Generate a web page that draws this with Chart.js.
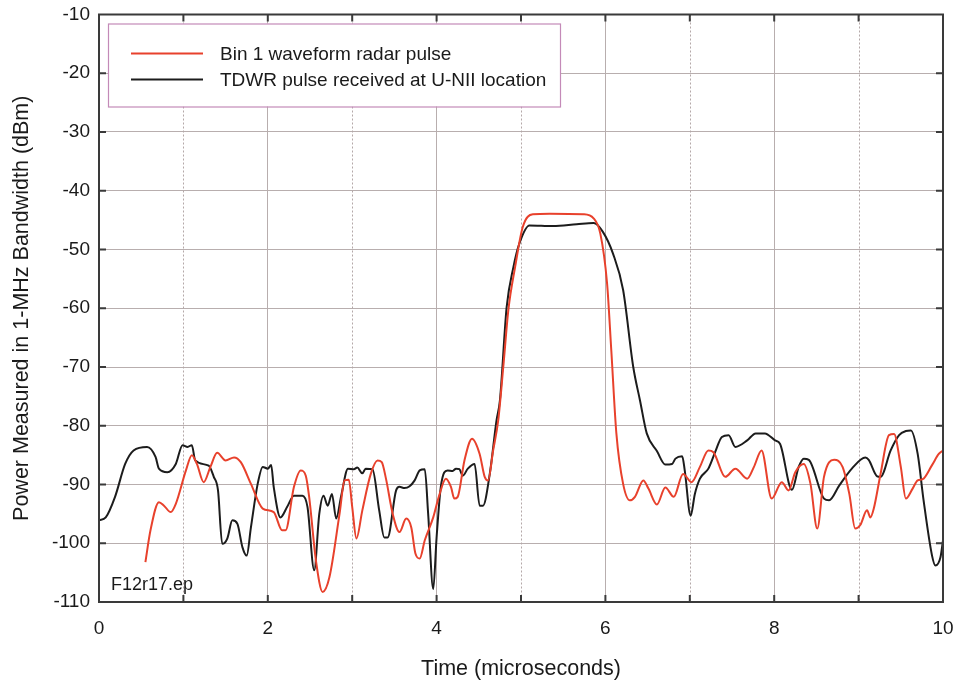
<!DOCTYPE html>
<html>
<head>
<meta charset="utf-8">
<script src="https://cdn.jsdelivr.net/npm/chart.js@4.4.0/dist/chart.umd.min.js"></script>
<style>
  html, body { margin: 0; padding: 0; background: #fff; }
  #wrap { width: 958px; height: 688px; }
</style>
</head>
<body>
<div id="wrap"><canvas id="myChart" width="958" height="688"></canvas></div>
<script>
// Bin 1 waveform radar pulse (red)
const binTime = [0.55, 0.61, 0.71, 0.77, 0.85, 0.91, 1.03, 1.10, 1.16, 1.24, 1.32, 1.40, 1.50, 1.60, 1.68, 1.80, 1.94, 2.07, 2.17, 2.21, 2.31, 2.39, 2.45, 2.49, 2.57, 2.65, 2.73, 2.85, 2.91, 2.96, 3.00, 3.05, 3.12, 3.22, 3.30, 3.35, 3.40, 3.48, 3.56, 3.64, 3.70, 3.75, 3.80, 3.86, 3.96, 4.03, 4.11, 4.17, 4.21, 4.25, 4.33, 4.42, 4.51, 4.57, 4.61, 4.67, 4.73, 4.79, 4.85, 4.93, 5.02, 5.14, 5.34, 5.74, 5.86, 5.94, 6.02, 6.07, 6.13, 6.21, 6.29, 6.35, 6.45, 6.51, 6.61, 6.71, 6.81, 6.92, 7.02, 7.12, 7.22, 7.28, 7.42, 7.54, 7.68, 7.76, 7.85, 7.97, 8.09, 8.17, 8.25, 8.35, 8.43, 8.51, 8.59, 8.71, 8.81, 8.89, 8.96, 9.02, 9.10, 9.14, 9.18, 9.26, 9.36, 9.42, 9.50, 9.56, 9.64, 9.70, 9.76, 9.87, 9.95, 10.00];
const binPower = [-103.2, -97.8, -93.0, -93.6, -94.7, -93.3, -87.6, -85.0, -86.5, -89.6, -87.0, -84.6, -85.9, -85.4, -86.2, -89.9, -94.1, -94.7, -97.8, -97.8, -90.4, -87.6, -88.5, -92.1, -102.9, -108.3, -105.8, -95.0, -89.3, -89.2, -93.8, -99.2, -94.4, -88.2, -85.9, -86.2, -89.0, -95.0, -98.1, -95.8, -97.3, -101.8, -102.6, -99.5, -95.6, -91.9, -89.0, -90.4, -92.4, -92.1, -85.9, -82.2, -84.8, -88.7, -89.3, -84.2, -79.1, -70.0, -60.3, -53.0, -46.2, -44.0, -43.9, -44.0, -44.7, -47.3, -55.8, -67.2, -81.3, -89.9, -92.7, -92.1, -89.3, -90.7, -93.4, -90.5, -92.1, -88.2, -89.6, -87.0, -84.2, -84.5, -88.7, -87.3, -89.0, -87.0, -84.2, -92.4, -89.6, -91.0, -87.9, -86.5, -89.9, -97.5, -88.7, -85.8, -87.0, -91.6, -97.5, -96.9, -94.4, -95.6, -94.1, -88.2, -81.6, -81.4, -87.0, -92.4, -90.7, -89.3, -89.1, -86.7, -84.8, -84.2];

// TDWR pulse received at U-NII location (black)
const tdwrTime = [0.00, 0.08, 0.19, 0.31, 0.41, 0.57, 0.67, 0.71, 0.81, 0.91, 0.99, 1.05, 1.10, 1.14, 1.30, 1.36, 1.41, 1.46, 1.52, 1.58, 1.64, 1.70, 1.75, 1.80, 1.88, 1.94, 2.00, 2.04, 2.07, 2.15, 2.23, 2.31, 2.41, 2.47, 2.55, 2.61, 2.66, 2.71, 2.76, 2.81, 2.87, 2.95, 3.02, 3.06, 3.12, 3.16, 3.24, 3.32, 3.38, 3.42, 3.52, 3.56, 3.62, 3.68, 3.74, 3.80, 3.86, 3.90, 3.96, 4.00, 4.05, 4.13, 4.19, 4.23, 4.27, 4.31, 4.37, 4.45, 4.51, 4.55, 4.63, 4.71, 4.75, 4.83, 4.91, 4.98, 5.10, 5.38, 5.66, 5.86, 5.97, 6.09, 6.21, 6.33, 6.41, 6.49, 6.61, 6.71, 6.79, 6.83, 6.91, 6.94, 7.01, 7.06, 7.12, 7.22, 7.30, 7.38, 7.46, 7.54, 7.68, 7.78, 7.89, 8.01, 8.07, 8.21, 8.29, 8.35, 8.41, 8.59, 8.65, 8.77, 8.92, 9.08, 9.12, 9.22, 9.26, 9.38, 9.48, 9.56, 9.62, 9.70, 9.77, 9.87, 9.91, 9.97, 10.00];
const tdwrPower = [-96.1, -95.6, -92.1, -86.5, -84.2, -83.6, -85.3, -87.3, -87.9, -86.5, -83.3, -83.6, -83.3, -85.9, -86.8, -88.7, -91.0, -100.1, -99.2, -96.1, -96.7, -100.7, -102.1, -97.3, -89.9, -87.0, -87.3, -86.7, -90.4, -95.6, -93.8, -91.9, -91.9, -93.8, -104.6, -95.0, -91.9, -93.6, -91.6, -95.8, -91.9, -87.3, -87.4, -87.1, -88.1, -87.3, -87.4, -94.4, -99.0, -99.0, -91.0, -90.4, -90.6, -90.3, -89.3, -87.6, -87.4, -95.0, -107.8, -99.0, -90.4, -87.6, -87.7, -87.3, -87.4, -88.5, -87.3, -86.5, -93.6, -93.6, -88.2, -79.1, -75.7, -59.8, -53.0, -49.0, -45.9, -46.0, -45.7, -45.5, -47.0, -50.7, -56.9, -70.0, -75.7, -81.3, -84.3, -86.6, -86.5, -85.6, -85.2, -87.6, -95.3, -91.6, -89.0, -87.3, -84.5, -81.9, -81.6, -83.6, -82.5, -81.3, -81.3, -82.5, -83.1, -90.9, -87.0, -85.6, -85.8, -92.4, -92.7, -90.2, -87.3, -85.4, -85.8, -88.6, -88.7, -84.2, -81.6, -80.9, -80.8, -84.8, -92.7, -102.1, -103.8, -102.4, -99.5];

const seriesLabels = ['Bin 1 waveform radar pulse', 'TDWR pulse received at U-NII location'];
const seriesColors = ['#e8412c', '#1c1c1c'];
const noteText = 'F12r17.ep';

const FONT = '"Liberation Sans", Arial, Helvetica, sans-serif';
const toPoints = (xs, ys) => xs.map((x, i) => ({ x, y: ys[i] }));

// dotted minor grid, frame, inward ticks, legend box, note
const framePlugin = {
  id: 'frame',
  beforeDatasetsDraw(chart) {
    const { ctx, chartArea: a, scales: { x } } = chart;
    ctx.save();
    ctx.strokeStyle = '#b4a8a8';
    ctx.lineWidth = 1;
    ctx.setLineDash([2, 2]);
    for (let t = 1; t < 10; t += 2) {
      const px = Math.round(x.getPixelForValue(t)) + 0.5;
      ctx.beginPath();
      ctx.moveTo(px, a.top);
      ctx.lineTo(px, a.bottom);
      ctx.stroke();
    }
    ctx.restore();
  },
  afterDatasetsDraw(chart) {
    const { ctx, chartArea: a, scales: { x, y } } = chart;
    ctx.save();
    ctx.strokeStyle = '#3a3a3a';
    ctx.lineWidth = 2;
    ctx.strokeRect(a.left, a.top, a.right - a.left, a.bottom - a.top);
    const tl = 7;
    ctx.beginPath();
    for (let t = 1; t < 10; t++) {
      const px = x.getPixelForValue(t);
      ctx.moveTo(px, a.top); ctx.lineTo(px, a.top + tl);
      ctx.moveTo(px, a.bottom); ctx.lineTo(px, a.bottom - tl);
    }
    for (let v = -100; v < -10; v += 10) {
      const py = y.getPixelForValue(v);
      ctx.moveTo(a.left, py); ctx.lineTo(a.left + tl, py);
      ctx.moveTo(a.right, py); ctx.lineTo(a.right - tl, py);
    }
    ctx.stroke();

    // legend
    const bx = a.left + 9, by = a.top + 9, bw = 452, bh = 83;
    ctx.fillStyle = '#fff';
    ctx.fillRect(bx, by, bw, bh);
    ctx.strokeStyle = '#c48ab8';
    ctx.lineWidth = 1.2;
    ctx.strokeRect(bx + 0.5, by + 0.5, bw, bh);
    ctx.font = '19px ' + FONT;
    ctx.textBaseline = 'middle';
    chart.data.datasets.forEach((ds, i) => {
      const ly = by + 30 + i * 26;
      ctx.strokeStyle = ds.borderColor;
      ctx.lineWidth = 1.8;
      ctx.beginPath();
      ctx.moveTo(bx + 23, ly);
      ctx.lineTo(bx + 95, ly);
      ctx.stroke();
      ctx.fillStyle = '#1a1a1a';
      ctx.fillText(ds.label, bx + 112, ly + 1);
    });

    // file note
    ctx.fillStyle = '#1a1a1a';
    ctx.textBaseline = 'alphabetic';
    ctx.font = '18px ' + FONT;
    ctx.fillText(noteText, a.left + 12, a.bottom - 12);
    ctx.restore();
  }
};

const ctx = document.getElementById('myChart').getContext('2d');
const myChart = new Chart(ctx, {
  type: 'line',
  data: {
    datasets: [{
      label: seriesLabels[0],
      data: toPoints(binTime, binPower),
      borderColor: seriesColors[0],
      borderWidth: 2,
      pointRadius: 0,
      cubicInterpolationMode: 'monotone'
    }, {
      label: seriesLabels[1],
      data: toPoints(tdwrTime, tdwrPower),
      borderColor: seriesColors[1],
      borderWidth: 2,
      pointRadius: 0,
      cubicInterpolationMode: 'monotone'
    }]
  },
  options: {
    responsive: false,
    animation: false,
    layout: { padding: { left: 0, right: 15, top: 14.5, bottom: 0 } },
    plugins: { legend: { display: false }, tooltip: { enabled: false } },
    scales: {
      x: {
        type: 'linear',
        min: 0,
        max: 10,
        afterFit: s => { s.height = 86; s.paddingLeft = 0; s.paddingRight = 0; },
        ticks: {
          stepSize: 1,
          autoSkip: false,
          maxRotation: 0,
          padding: 15,
          color: '#1a1a1a',
          font: { family: FONT, size: 19 },
          callback: v => (v % 2 === 0 ? v : '')
        },
        grid: {
          drawTicks: false,
          color: c => (c.tick && c.tick.value % 2 === 0 ? '#b8aeae' : 'transparent')
        },
        border: { display: false },
        title: {
          display: true,
          text: 'Time (microseconds)',
          color: '#1a1a1a',
          font: { family: FONT, size: 21.5 },
          padding: { top: 0, bottom: 6 }
        }
      },
      y: {
        min: -110,
        max: -10,
        afterFit: s => { s.width = 99; s.paddingTop = 0; s.paddingBottom = 0; },
        ticks: {
          stepSize: 10,
          padding: 9,
          color: '#1a1a1a',
          font: { family: FONT, size: 19 }
        },
        grid: { drawTicks: false, color: '#b8aeae' },
        border: { display: false },
        title: {
          display: true,
          text: 'Power Measured in 1-MHz Bandwidth (dBm)',
          color: '#1a1a1a',
          font: { family: FONT, size: 21.5 },
          padding: { top: 9, bottom: 0 }
        }
      }
    }
  },
  plugins: [framePlugin]
});
</script>
</body>
</html>
